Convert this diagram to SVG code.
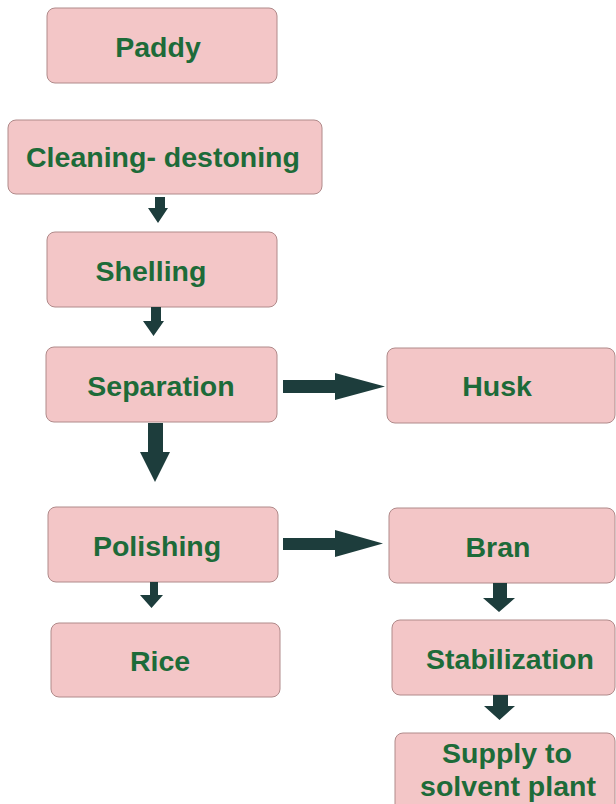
<svg xmlns="http://www.w3.org/2000/svg" width="616" height="804" viewBox="0 0 616 804">
<style>
.box{fill:#f3c6c7;stroke:#b08a8a;stroke-width:1}
.t{font-family:"Liberation Sans",Arial,sans-serif;font-weight:bold;font-size:28.5px;fill:#1d6b39;text-anchor:middle}
.a{fill:#1d3d3c}
</style>
<rect width="616" height="804" fill="#ffffff"/>
<g id="paddy"><rect class="box" x="47" y="8" width="230" height="75" rx="8"/><text class="t" x="158" y="57">Paddy</text></g>
<g id="cleaning"><rect class="box" x="8" y="120" width="314" height="74" rx="8"/><text class="t" x="163" y="167">Cleaning- destoning</text></g>
<g id="shelling"><rect class="box" x="47" y="232" width="230" height="75" rx="8"/><text class="t" x="151" y="281">Shelling</text></g>
<g id="separation"><rect class="box" x="46" y="347" width="231" height="75" rx="8"/><text class="t" x="161" y="396">Separation</text></g>
<g id="polishing"><rect class="box" x="48" y="507" width="230" height="75" rx="8"/><text class="t" x="157" y="556">Polishing</text></g>
<g id="rice"><rect class="box" x="51" y="623" width="229" height="74" rx="8"/><text class="t" x="160" y="671">Rice</text></g>
<g id="husk"><rect class="box" x="387" y="348" width="228" height="75" rx="8"/><text class="t" x="497" y="396">Husk</text></g>
<g id="bran"><rect class="box" x="389" y="508" width="226" height="75" rx="8"/><text class="t" x="498" y="557">Bran</text></g>
<g id="stabilization"><rect class="box" x="392" y="620" width="223" height="75" rx="8"/><text class="t" x="510" y="669">Stabilization</text></g>
<g id="supply"><rect class="box" x="395" y="733" width="220" height="90" rx="8"/><text class="t" x="507" y="763">Supply to</text><text class="t" x="508" y="796">solvent plant</text></g>
<g id="connectors">
<polygon class="a" points="155,197 165,197 165,208 168,208 158,223 148,208 155,208"/>
<polygon class="a" points="151,307 161,307 161,321 164,321 153.5,336 143,321 151,321"/>
<polygon class="a" points="148,423 163,423 163,452 170,452 155,482 140,452 148,452"/>
<polygon class="a" points="150,582 158,582 158,595 163,595 151.5,608 140,595 150,595"/>
<polygon class="a" points="283,380 335,380 335,373 385,386.5 335,400 335,393 283,393"/>
<polygon class="a" points="283,538 335,538 335,530 383,543.5 335,557 335,550 283,550"/>
<polygon class="a" points="493,583 507,583 507,598 515,598 499,612 483,598 493,598"/>
<polygon class="a" points="493,695 508,695 508,706 515,706 499.5,720 484,706 493,706"/>
</g>
</svg>
